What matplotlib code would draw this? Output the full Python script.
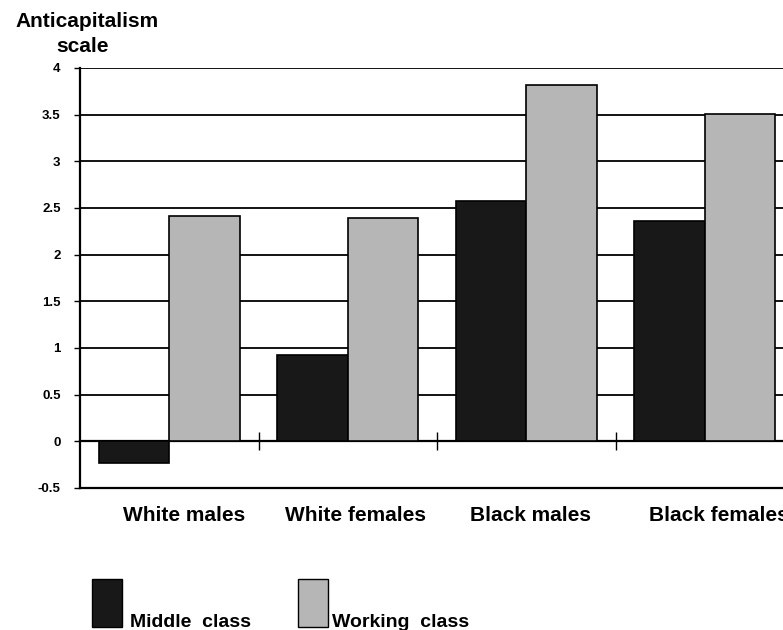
import numpy as np
import matplotlib
matplotlib.use('Agg')
import matplotlib.pyplot as plt
import matplotlib.transforms as mtransforms
from matplotlib.patches import Rectangle

# values
groups = ['White males', 'White females', 'Black males', 'Black females']
middle_class = [-0.23, 0.93, 2.58, 2.36]
working_class = [2.41, 2.39, 3.82, 3.51]
y_ticks = [-0.5, 0, 0.5, 1, 1.5, 2, 2.5, 3, 3.5, 4]
y_labels = ['-0.5', '0', '0.5', '1', '1.5', '2', '2.5', '3', '3.5', '4']

plt.rcParams['font.family'] = ['Liberation Sans', 'DejaVu Sans']
plt.rcParams['font.weight'] = 'bold'

W, H = 783, 630
fig = plt.figure(figsize=(W / 100, H / 100), dpi=100)
# axes runs past the right edge, as in the scanned page
ax = fig.add_axes([80 / W, (H - 488) / H, 714 / W, 420 / H])

x = np.arange(len(groups))
bw = 0.395
dark = '#181818'
light = '#b6b6b6'

ax.set_ylim(-0.5, 4)
ax.set_xlim(-0.5, len(groups) - 0.5)

for yv in y_ticks[1:]:
    ax.axhline(yv, color='black', lw=1.3, zorder=1)

ax.bar(x - bw / 2, middle_class, bw, color=dark, edgecolor='black', lw=1.2, zorder=2)
ax.bar(x + bw / 2, working_class, bw, color=light, edgecolor='black', lw=1.2, zorder=2)

ax.set_yticks(y_ticks)
ax.set_yticklabels(y_labels, fontsize=9.5, fontweight='bold')
ax.tick_params(axis='y', direction='out', length=4, width=1, pad=10)
ax.set_xticks(x)
ax.set_xticklabels(groups, fontsize=15, fontweight='bold')
ax.tick_params(axis='x', length=0, pad=13)

# labels in the original sit a little right of the bar pairs
shifts = [15, 8, 4, 14]
for lbl, dx in zip(ax.get_xticklabels(), shifts):
    lbl.set_transform(lbl.get_transform() +
                      mtransforms.ScaledTranslation(dx / 100, 0, fig.dpi_scale_trans))

for s in ['top', 'right']:
    ax.spines[s].set_visible(False)
ax.spines['left'].set_linewidth(1.6)
ax.spines['bottom'].set_linewidth(1.6)

# zero line with category separator ticks
zero_loc = (0 - ax.get_ylim()[0]) / (ax.get_ylim()[1] - ax.get_ylim()[0])
sec = ax.secondary_xaxis(zero_loc)
sec.set_xticks(x[:-1] + 0.5)
sec.set_xticklabels([])
sec.tick_params(direction='inout', length=13, width=1)
sec.spines['bottom'].set_linewidth(1.6)
sec.spines['bottom'].set_zorder(3)


def px(xp, yp):
    return xp / W, 1 - yp / H


fig.text(*px(87, 27), 'Anticapitalism', ha='center', va='baseline',
         fontsize=15, fontweight='bold')
fig.text(*px(83, 52), 'scale', ha='center', va='baseline',
         fontsize=15, fontweight='bold')

# legend
for (lx, tx, col, lab) in [(92, 130, dark, 'Middle  class'),
                           (298, 332, light, 'Working  class')]:
    fig.add_artist(Rectangle(px(lx, 627), 30 / W, 48 / H, transform=fig.transFigure,
                             facecolor=col, edgecolor='black', lw=1))
    fig.text(*px(tx, 627), lab, ha='left', va='baseline', fontsize=14, fontweight='bold')

fig.savefig('out.png', dpi=100)
